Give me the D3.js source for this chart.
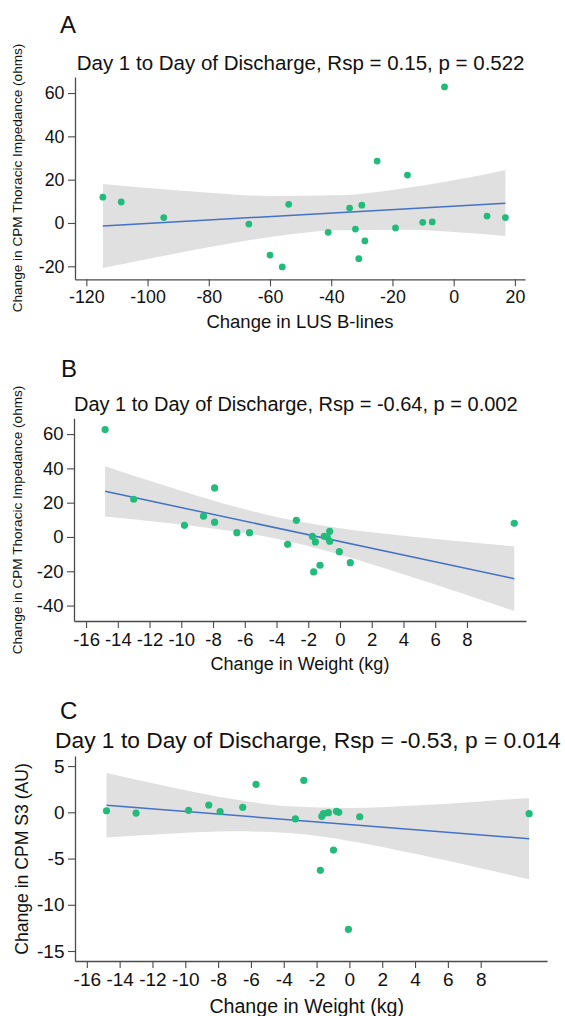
<!DOCTYPE html>
<html>
<head>
<meta charset="utf-8">
<script src="https://cdn.jsdelivr.net/npm/d3@7"></script>
<style>
  body { margin: 0; background: #fff; }
  svg { font-family: "Liberation Sans", Arial, Helvetica, sans-serif; }
</style>
</head>
<body>
<script>
// --- panel A: LUS B-lines vs thoracic impedance
const aX = [-114.6, -108.6, -94.7, -66.9, -60.0, -56.0, -53.9, -41.0, -34.0, -32.1, -31.0,
            -30.0, -29.0, -25.0, -19.0, -15.1, -10.1, -7.0, -3.0, 10.9, 16.9];
const aY = [11.9, 9.7, 2.5, -0.5, -14.8, -20.3, 8.6, -4.3, 6.9, -2.8, -16.5,
            8.2, -8.3, 28.6, -2.3, 22.1, 0.3, 0.5, 62.8, 3.2, 2.5];
const aFitX = [-114.6, 16.9];
const aFitY = [-1.4, 9.1];
const aBandX = [-114.6, -95, -80, -60, -38, -15, 0, 16.9];
const aBandLo = [-20.8, -15.2, -11.2, -6.5, -3.4, -3.1, -4.2, -6.0];
const aBandHi = [18.0, 15.6, 14.0, 12.5, 12.8, 16.3, 19.7, 24.5];
const aXTicks = [-120, -100, -80, -60, -40, -20, 0, 20];
const aYTicks = [-20, 0, 20, 40, 60];

// --- panel B: weight vs thoracic impedance
const bX = [-14.8, -13.0, -9.8, -8.6, -7.9, -7.9, -6.5, -5.7, -3.3, -2.75, -1.74,
            -1.66, -1.55, -1.26, -0.99, -0.8, -0.65, -0.65, -0.04, 0.65, 10.98];
const bY = [62.6, 22.0, 6.8, 12.1, 28.6, 8.6, 2.5, 2.5, -4.3, 9.7, 0.4,
            -20.4, -2.9, -16.5, 0.4, -0.2, 3.3, -2.5, -8.6, -15.0, 8.0];
const bFitX = [-14.8, 10.98];
const bFitY = [26.6, -24.3];
const bBandX = [-14.8, -11, -7, -3.7, 0, 4, 8, 10.98];
const bBandLo = [11.9, 8.3, 3.7, -1.6, -10.3, -21.7, -33.8, -43.1];
const bBandHi = [41.3, 29.9, 18.7, 11.0, 5.1, 0.7, -3.0, -5.5];
const bXTicks = [-16, -14, -12, -10, -8, -6, -4, -2, 0, 2, 4, 6, 8];
const bYTicks = [-40, -20, 0, 20, 40, 60];

// --- panel C: weight vs S3
const cX = [-14.8, -13.0, -9.8, -8.57, -7.88, -6.5, -5.69, -3.29, -2.78, -1.68,
            -1.58, -1.77, -1.28, -0.97, -0.79, -0.65, -0.06, 0.63, 10.95];
const cY = [0.17, -0.08, 0.21, 0.79, 0.07, 0.54, 3.03, -0.72, 3.46, -0.43,
            -0.15, -6.27, -0.04, -4.08, 0.11, 0.0, -12.65, -0.48, -0.15];
const cFitX = [-14.8, 10.95];
const cFitY = [0.76, -2.85];
const cBandX = [-14.8, -11, -7, -3.66, 0, 4, 8, 10.95];
const cBandLo = [-2.72, -2.31, -2.06, -2.25, -3.09, -4.48, -6.04, -7.25];
const cBandHi = [4.24, 2.77, 1.40, 0.65, 0.47, 0.74, 1.18, 1.55];
const cXTicks = [-16, -14, -12, -10, -8, -6, -4, -2, 0, 2, 4, 6, 8];
const cYTicks = [-15, -10, -5, 0, 5];

const titles = [
  "Day 1 to Day of Discharge, Rsp = 0.15, p = 0.522",
  "Day 1 to Day of Discharge, Rsp = -0.64, p = 0.002",
  "Day 1 to Day of Discharge, Rsp = -0.53, p = 0.014"
];
const letters = ["A", "B", "C"];
const xLabels = ["Change in LUS B-lines", "Change in Weight (kg)", "Change in Weight (kg)"];
const yLabels = ["Change in CPM Thoracic Impedance (ohms)",
                 "Change in CPM Thoracic Impedance (ohms)",
                 "Change in CPM S3 (AU)"];

const w = 565;
const h = 1016;
const green = "#22bb7b";
const blue = "#4472c4";
const grey = "#e0e0e0";
const axisCol = "#4a4a4a";

let svg = d3.select("body")
            .append("svg")
            .attr("width", w)
            .attr("height", h);

// plain hyphen for negatives, like the original figure
const fmt = (d) => String(d);

function drawPanel(p) {
    let x = d3.scaleLinear().domain(p.xDomain).range(p.xRange);
    let y = d3.scaleLinear().domain(p.yDomain).range(p.yRange);
    let g = svg.append("g");

    // confidence band
    let idx = d3.range(p.bandX.length);
    g.append("path")
        .datum(idx)
        .attr("fill", grey)
        .attr("d", d3.area()
            .x((i) => x(p.bandX[i]))
            .y0((i) => y(p.bandLo[i]))
            .y1((i) => y(p.bandHi[i]))
            .curve(d3.curveMonotoneX));

    // fitted line
    g.append("path")
        .datum(d3.range(p.fitX.length))
        .attr("fill", "none")
        .attr("stroke", blue)
        .attr("stroke-width", 1.5)
        .attr("d", d3.line()
            .x((i) => x(p.fitX[i]))
            .y((i) => y(p.fitY[i])));

    g.selectAll("circle")
        .data(d3.range(p.xs.length))
        .enter()
        .append("circle")
        .attr("cx", (i) => x(p.xs[i]))
        .attr("cy", (i) => y(p.ys[i]))
        .attr("r", p.r)
        .attr("fill", green);

    let xAxis = g.append("g")
        .attr("transform", "translate(0," + p.yRange[0] + ")")
        .call(d3.axisBottom(x).tickValues(p.xTicks).tickFormat(fmt)
            .tickSize(7).tickSizeOuter(0).tickPadding(4.5));
    let yAxis = g.append("g")
        .attr("transform", "translate(" + p.xRange[0] + ",0)")
        .call(d3.axisLeft(y).tickValues(p.yTicks).tickFormat(fmt)
            .tickSize(7).tickSizeOuter(0).tickPadding(3.5));
    [xAxis, yAxis].forEach((a) => {
        a.select(".domain").attr("stroke", axisCol).attr("stroke-width", 1.3);
        a.selectAll(".tick line").attr("stroke", axisCol).attr("stroke-width", 1.1);
        a.selectAll(".tick text")
            .attr("fill", "#111")
            .style("font-family", "'Liberation Sans', Arial, sans-serif")
            .style("font-size", p.tickFont + "px");
    });

    g.append("text")
        .attr("x", p.letterPos[0]).attr("y", p.letterPos[1])
        .style("font-size", "24px")
        .attr("fill", "#111")
        .text(p.letter);
    g.append("text")
        .attr("x", p.titlePos[0]).attr("y", p.titlePos[1])
        .style("font-size", p.titleFont + "px")
        .attr("fill", "#111")
        .text(p.title);
    g.append("text")
        .attr("x", p.xLabelPos[0]).attr("y", p.xLabelPos[1])
        .attr("text-anchor", "middle")
        .style("font-size", p.xLabelFont + "px")
        .attr("fill", "#111")
        .text(p.xLabel);
    g.append("text")
        .attr("transform", "translate(" + p.yLabelPos[0] + "," + p.yLabelPos[1] + ") rotate(-90)")
        .attr("text-anchor", "middle")
        .style("font-size", p.yLabelFont + "px")
        .attr("fill", "#111")
        .text(p.yLabel);
}

drawPanel({
    xs: aX, ys: aY, fitX: aFitX, fitY: aFitY,
    bandX: aBandX, bandLo: aBandLo, bandHi: aBandHi,
    xTicks: aXTicks, yTicks: aYTicks,
    xDomain: [-123.7, 23.3], xRange: [75, 525],
    yDomain: [-26, 67.4], yRange: [279.3, 77],
    r: 3.4, tickFont: 17.8,
    letter: letters[0], letterPos: [60, 33.3],
    title: titles[0], titlePos: [76.7, 69.5], titleFont: 20.5,
    xLabel: xLabels[0], xLabelPos: [300, 327.7], xLabelFont: 18.5,
    yLabel: yLabels[0], yLabelPos: [22, 178], yLabelFont: 13.6
});

drawPanel({
    xs: bX, ys: bY, fitX: bFitX, fitY: bFitY,
    bandX: bBandX, bandLo: bBandLo, bandHi: bBandHi,
    xTicks: bXTicks, yTicks: bYTicks,
    xDomain: [-16.76, 11.72], xRange: [74, 526],
    yDomain: [-49.0, 69.2], yRange: [621, 418.3],
    r: 3.6, tickFont: 18.5,
    letter: letters[1], letterPos: [61, 376.7],
    title: titles[1], titlePos: [74, 411], titleFont: 20,
    xLabel: xLabels[1], xLabelPos: [300, 670], xLabelFont: 18,
    yLabel: yLabels[1], yLabelPos: [22, 520], yLabelFont: 13.6
});

drawPanel({
    xs: cX, ys: cY, fitX: cFitX, fitY: cFitY,
    bandX: cBandX, bandLo: cBandLo, bandHi: cBandHi,
    xTicks: cXTicks, yTicks: cYTicks,
    xDomain: [-16.72, 12.04], xRange: [75, 547],
    yDomain: [-16.08, 6.09], yRange: [961, 756],
    r: 3.6, tickFont: 19,
    letter: letters[2], letterPos: [60, 719],
    title: titles[2], titlePos: [55, 748], titleFont: 22.8,
    xLabel: xLabels[2], xLabelPos: [306.7, 1013], xLabelFont: 19.6,
    yLabel: yLabels[2], yLabelPos: [28, 859], yLabelFont: 17.6
});
</script>
</body>
</html>
